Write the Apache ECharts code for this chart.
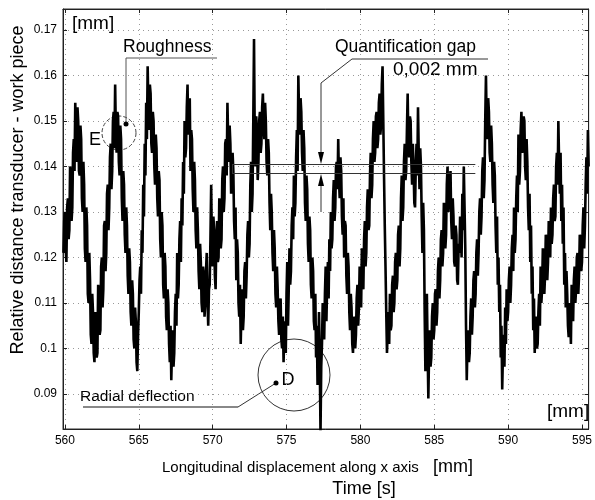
<!DOCTYPE html>
<html><head><meta charset="utf-8">
<script src="https://cdn.jsdelivr.net/npm/echarts@6/dist/echarts.min.js"></script>
<style>html,body{margin:0;padding:0;background:#fff}#c{width:595px;height:500px}</style>
</head><body><div id="c"></div>
<script>
// sampling of the recorded signal
const timeStart = 559.9;
const timeStep = 0.05;
// relative distance transducer - work piece [mm]
const distanceValues = [
0.121,0.128,
0.130,0.122,0.119,0.131,0.133,0.124,0.126,0.140,0.138,0.128,0.131,0.143,0.146,0.139,0.154,0.147,0.141,0.153,0.150,0.139,
0.138,0.149,0.146,0.133,0.130,0.141,0.136,0.122,0.119,0.131,0.127,0.112,0.110,0.121,0.115,0.103,0.101,0.112,0.108,0.099,
0.097,0.108,0.106,0.098,0.099,0.114,0.112,0.103,0.104,0.118,0.120,0.109,0.113,0.127,0.128,0.117,0.121,0.134,0.136,0.126,
0.131,0.142,0.145,0.135,0.139,0.150,0.152,0.144,0.158,0.147,0.143,0.152,0.151,0.141,0.138,0.149,0.146,0.133,0.128,0.139,
0.136,0.125,0.121,0.131,0.127,0.116,0.112,0.122,0.119,0.108,0.105,0.115,0.112,0.102,0.100,0.109,0.106,0.097,0.095,0.103,
0.108,0.115,0.118,0.112,0.126,0.121,0.136,0.129,0.145,0.138,0.154,0.146,0.162,0.153,0.148,0.158,0.156,0.145,0.143,0.152,
0.150,0.140,0.136,0.147,0.144,0.133,0.129,0.139,0.137,0.124,0.120,0.130,0.127,0.114,0.111,0.121,0.118,0.107,0.104,0.113,
0.110,0.101,0.097,0.105,0.093,0.100,0.104,0.096,0.099,0.108,0.112,0.105,0.121,0.111,0.114,0.124,0.128,0.119,0.133,0.127,
0.141,0.134,0.150,0.142,0.144,0.153,0.158,0.147,0.149,0.155,0.139,0.148,0.146,0.135,0.130,0.141,0.137,0.126,0.122,0.131,
0.126,0.117,0.113,0.123,0.119,0.110,0.108,0.118,0.116,0.107,0.110,0.117,0.121,0.111,0.105,0.113,0.114,0.124,0.136,0.122,
0.118,0.129,0.126,0.116,0.113,0.124,0.128,0.119,0.120,0.133,0.131,0.122,0.124,0.137,0.140,0.130,0.133,0.145,0.146,0.138,
0.154,0.146,0.141,0.149,0.145,0.134,0.136,0.143,0.139,0.128,0.124,0.131,0.115,0.124,0.121,0.110,0.107,0.114,0.101,0.109,
0.113,0.104,0.107,0.117,0.119,0.111,0.116,0.125,0.128,0.120,0.123,0.136,0.141,0.130,0.134,0.150,0.168,0.146,0.140,0.151,
0.147,0.137,0.141,0.150,0.152,0.143,0.145,0.153,0.156,0.149,0.146,0.154,0.150,0.141,0.138,0.146,0.143,0.132,0.126,0.134,
0.130,0.121,0.117,0.126,0.122,0.112,0.109,0.118,0.113,0.106,0.103,0.110,0.111,0.102,0.100,0.107,0.097,0.103,0.106,0.099,
0.112,0.119,0.105,0.113,0.122,0.114,0.117,0.127,0.131,0.124,0.138,0.129,0.132,0.142,0.148,0.139,0.160,0.151,0.147,0.155,
0.152,0.143,0.139,0.148,0.144,0.132,0.128,0.138,0.135,0.123,0.119,0.129,0.126,0.114,0.111,0.120,0.117,0.106,0.104,0.112,
0.098,0.105,0.092,0.100,0.108,0.097,0.0815,0.096,0.101,0.110,0.109,0.102,0.112,0.118,0.106,0.114,0.119,0.111,0.124,0.117,
0.130,0.122,0.124,0.133,0.137,0.128,0.131,0.140,0.141,0.135,0.146,0.137,0.133,0.142,0.139,0.129,0.125,0.133,0.120,0.128,
0.127,0.116,0.112,0.121,0.118,0.108,0.104,0.112,0.109,0.101,0.099,0.106,0.107,0.100,0.103,0.111,0.114,0.105,0.109,0.118,
0.116,0.109,0.122,0.115,0.113,0.124,0.128,0.118,0.121,0.131,0.135,0.126,0.127,0.138,0.143,0.133,0.136,0.146,0.150,0.141,
0.143,0.151,0.152,0.144,0.146,0.154,0.156,0.147,0.149,0.158,0.162,0.150,0.138,0.127,0.118,0.108,0.099,0.104,0.108,0.101,
0.112,0.104,0.105,0.114,0.116,0.108,0.110,0.119,0.121,0.113,0.115,0.125,0.127,0.118,0.122,0.133,0.138,0.128,0.131,0.141,
0.145,0.137,0.139,0.148,0.156,0.145,0.142,0.151,0.150,0.141,0.136,0.145,0.140,0.132,0.131,0.140,0.145,0.138,0.153,0.143,
0.135,0.144,0.140,0.129,0.121,0.132,0.126,0.108,0.095,0.106,0.112,0.100,0.089,0.099,0.104,0.096,0.098,0.107,0.110,0.102,
0.104,0.112,0.113,0.105,0.108,0.117,0.120,0.111,0.115,0.124,0.126,0.118,0.121,0.132,0.131,0.122,0.125,0.136,0.140,0.130,
0.130,0.137,0.139,0.128,0.124,0.133,0.129,0.119,0.118,0.127,0.125,0.115,0.114,0.123,0.121,0.129,0.127,0.120,0.134,0.126,
0.140,0.131,0.122,0.105,0.093,0.101,0.104,0.097,0.099,0.107,0.111,0.103,0.107,0.115,0.117,0.109,0.112,0.121,0.124,0.116,
0.121,0.130,0.133,0.125,0.129,0.139,0.142,0.133,0.137,0.150,0.160,0.149,0.146,0.155,0.152,0.143,0.141,0.149,0.145,0.136,
0.132,0.141,0.138,0.127,0.121,0.129,0.114,0.120,0.108,0.114,0.098,0.105,0.091,0.099,0.103,0.096,0.109,0.101,0.113,0.106,
0.108,0.115,0.118,0.110,0.114,0.122,0.125,0.117,0.131,0.121,0.124,0.133,0.138,0.130,0.147,0.136,0.139,0.148,0.152,0.143,
0.144,0.151,0.150,0.140,0.137,0.146,0.141,0.131,0.126,0.134,0.119,0.127,0.112,0.118,0.104,0.111,0.099,0.106,0.107,0.100,
0.101,0.108,0.112,0.105,0.118,0.110,0.113,0.122,0.121,0.112,0.116,0.125,0.124,0.115,0.119,0.128,0.127,0.120,0.131,0.123,
0.125,0.133,0.136,0.128,0.129,0.140,0.143,0.136,0.150,0.141,0.134,0.143,0.128,0.136,0.123,0.131,0.114,0.121,0.109,0.117,
0.112,0.105,0.1025,0.110,0.108,0.101,0.114,0.107,0.106,0.115,0.118,0.110,0.113,0.120,0.121,0.112,0.116,0.125,0.124,0.117,
0.119,0.127,0.131,0.122,0.127,0.136,0.142,0.134,0.148,0.140
];
const xTicks = [560,565,570,575,580,585,590,595];
const yTicks = [0.09,0.10,0.11,0.12,0.13,0.14,0.15,0.16,0.17];
const gapLevels = [0.1405, 0.1385];
const gapRange = [571.31, 587.78];

const seriesData = distanceValues.map((v,i)=>[+(timeStart + i*timeStep).toFixed(2), v]);
const F = 'Liberation Sans, Arial, sans-serif';

const chart = echarts.init(document.getElementById('c'), null, {renderer:'canvas'});
const axisLine = {show:true, lineStyle:{color:'#222', width:1}};
const tickStyle = {inside:true, length:4, lineStyle:{color:'#222'}};
const gridLine = {show:true, lineStyle:{color:'#999', type:[1,4], width:1}};
chart.setOption({
  animation:false,
  backgroundColor:'#fff',
  grid:{left:63, top:9, width:531, height:420, show:true, borderColor:'#333', borderWidth:1, backgroundColor:'transparent'},
  xAxis:[{
    type:'value', min:559.87, max:595.45, position:'bottom',
    axisLine:axisLine,
    axisTick:Object.assign({customValues:xTicks}, tickStyle),
    axisLabel:{customValues:xTicks, color:'#000', fontFamily:F, fontSize:12, margin:6},
    splitLine:gridLine
  },{
    type:'value', min:559.87, max:595.45, position:'top',
    axisLine:axisLine,
    axisTick:Object.assign({customValues:xTicks}, tickStyle),
    axisLabel:{show:false}, splitLine:{show:false}
  }],
  yAxis:[{
    type:'value', min:0.0823, max:0.1746, position:'left',
    axisLine:axisLine,
    axisTick:Object.assign({customValues:yTicks}, tickStyle),
    axisLabel:{customValues:yTicks, color:'#000', fontFamily:F, fontSize:12, margin:6,
      formatter:v=>String(+v.toFixed(2))},
    splitLine:gridLine
  },{
    type:'value', min:0.0823, max:0.1746, position:'right',
    axisLine:axisLine,
    axisTick:Object.assign({customValues:yTicks}, tickStyle),
    axisLabel:{show:false}, splitLine:{show:false}
  }],
  series:[{
    type:'line', data:seriesData, showSymbol:false, symbol:'none', sampling:false,
    clip:true, lineStyle:{color:'#000', width:2.6, join:'miter', miterLimit:4}, z:3,
    markLine:{
      silent:true, symbol:'none', animation:false,
      lineStyle:{color:'#333', width:1, type:'solid'}, label:{show:false},
      data:[
        [{coord:[gapRange[0], gapLevels[0]]},{coord:[gapRange[1], gapLevels[0]]}],
        [{coord:[gapRange[0], gapLevels[1]]},{coord:[gapRange[1], gapLevels[1]]}],
        [{coord:[gapRange[0], gapLevels[0]]},{coord:[gapRange[0], gapLevels[1]]}]
      ]
    }
  }],
  graphic:[
    {type:'text', x:18, y:190, rotation:Math.PI/2, style:{text:'Relative distance transducer - work piece', font:'18px '+F, fill:'#000', align:'center', verticalAlign:'middle'}},
    {type:'text', x:162, y:468, style:{text:'Longitudinal displacement along x axis', font:'15px '+F, fill:'#000', verticalAlign:'middle'}},
    {type:'text', x:433, y:467, style:{text:'[mm]', font:'18px '+F, fill:'#000', verticalAlign:'middle'}},
    {type:'text', x:364, y:489, style:{text:'Time [s]', font:'18px '+F, fill:'#000', align:'center', verticalAlign:'middle'}},
    {type:'text', x:72, y:24, style:{text:'[mm]', font:'19px '+F, fill:'#000', verticalAlign:'middle'}},
    {type:'text', x:547, y:412, style:{text:'[mm]', font:'19px '+F, fill:'#000', verticalAlign:'middle'}},
    // Roughness
    {type:'text', x:123, y:47, style:{text:'Roughness', font:'17.5px '+F, fill:'#000', verticalAlign:'middle'}},
    {type:'polyline', shape:{points:[[217,58],[126,58],[126,124]]}, style:{stroke:'#555', lineWidth:1, fill:null}},
    {type:'circle', shape:{cx:126, cy:124, r:2.5}, style:{fill:'#000'}},
    {type:'circle', shape:{cx:119, cy:133, r:17}, style:{stroke:'#444', lineWidth:1, fill:null, lineDash:[4,2]}},
    {type:'text', x:95, y:140, style:{text:'E', font:'18px '+F, fill:'#000', align:'center', verticalAlign:'middle'}},
    // Quantification gap
    {type:'text', x:335, y:47, style:{text:'Quantification gap', font:'17.5px '+F, fill:'#000', verticalAlign:'middle'}},
    {type:'text', x:393, y:70, style:{text:'0,002 mm', font:'19px '+F, fill:'#000', verticalAlign:'middle'}},
    {type:'polyline', shape:{points:[[488,59],[352,59],[321,83],[321,160]]}, style:{stroke:'#333', lineWidth:1, fill:null}},
    {type:'polygon', shape:{points:[[318,152],[324,152],[321,164]]}, style:{fill:'#000'}},
    {type:'polyline', shape:{points:[[321,180],[321,212]]}, style:{stroke:'#333', lineWidth:1, fill:null}},
    {type:'polygon', shape:{points:[[318,186],[324,186],[321,174]]}, style:{fill:'#000'}},
    // Radial deflection
    {type:'text', x:80, y:397, style:{text:'Radial deflection', font:'15.5px '+F, fill:'#000', verticalAlign:'middle'}},
    {type:'polyline', shape:{points:[[83,407],[238,407]]}, style:{stroke:'#888', lineWidth:2, fill:null}},
    {type:'polyline', shape:{points:[[238,407],[276,383]]}, style:{stroke:'#333', lineWidth:1, fill:null}},
    {type:'circle', shape:{cx:276, cy:383, r:2.5}, style:{fill:'#000'}},
    {type:'circle', shape:{cx:294, cy:375, r:36}, style:{stroke:'#333', lineWidth:1, fill:null}},
    {type:'text', x:288, y:380, style:{text:'D', font:'18px '+F, fill:'#000', align:'center', verticalAlign:'middle'}}
  ]
});
</script></body></html>
